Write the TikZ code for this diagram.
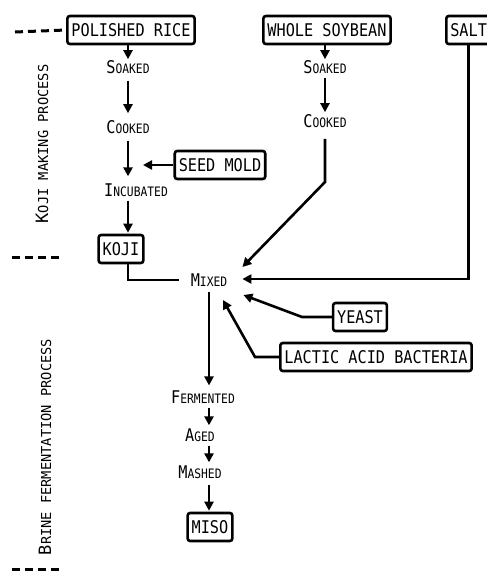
\documentclass[tikz,border=0pt]{standalone}
\usepackage{fontspec}
\newfontfamily\letterfont[FakeStretch=0.87]{DejaVu Sans Mono}
\newfontfamily\sidefont{DejaVu Sans Mono}
\usetikzlibrary{arrows.meta}
% big first letter, rest in small capitals
\newcommand\capsmall[2]{{\fontsize{17.5}{18}\selectfont #1}{\fontsize{13}{14}\selectfont #2}}
\newcommand\sidecaps[2]{{\fontsize{17}{18}\selectfont #1}{\fontsize{13.7}{14}\selectfont #2}}

\begin{document}
\begin{tikzpicture}[
  x=1pt, y=-1pt,
  box/.style={draw, line width=2.6pt, rounded corners=2.5pt, fill=white, inner xsep=4pt,
    minimum height=28pt, text height=12.5pt, text depth=0pt,
    font=\letterfont\fontsize{17.5}{18}\selectfont},
  stp/.style={inner sep=1pt, font=\letterfont},
  flow/.style={line width=2.6pt, -{Triangle[length=9pt,width=9pt]}},
  link/.style={line width=2.6pt},
  gap/.style={shorten <=6pt, shorten >=6pt},
  sep/.style={line width=3pt, dash pattern=on 8pt off 5pt},
  side/.style={rotate=90, inner sep=0pt, font=\sidefont}
]
  \useasboundingbox (0,0) rectangle (487,571);

  % koji making
  \node[box] (rice) at (131,30) {POLISHED RICE};
  \node[box] (soy) at (327,30) {WHOLE SOYBEAN};
  \node[box, anchor=west] (salt) at (445,30) {SALT};
  \node[stp] (soak1) at (128,67) {\capsmall{S}{OAKED}};
  \node[stp] (cook1) at (128,127) {\capsmall{C}{OOKED}};
  \node[box] (mold) at (220,165) {SEED MOLD};
  \node[stp] (incub) at (136,190) {\capsmall{I}{NCUBATED}};
  \node[box] (koji) at (121,249) {KOJI};
  \node[stp] (soak2) at (325,67) {\capsmall{S}{OAKED}};
  \node[stp] (cook2) at (325,121) {\capsmall{C}{OOKED}};

  % brine fermentation
  \node[stp, inner xsep=12pt, inner ysep=3pt] (mixed) at (209,280) {\capsmall{M}{IXED}};
  \node[box] (yeast) at (360,317) {YEAST};
  \node[box] (lab) at (376,357) {LACTIC ACID BACTERIA};
  \node[stp] (ferm) at (203,397) {\capsmall{F}{ERMENTED}};
  \node[stp] (aged) at (200,435) {\capsmall{A}{GED}};
  \node[stp] (mash) at (200,472) {\capsmall{M}{ASHED}};
  \node[box] (miso) at (210,527) {MISO};

  \node[side] (kojilbl) at (42,144) {\sidecaps{K}{OJI MAKING PROCESS}};
  \node[side] (brinelbl) at (45,447) {\sidecaps{B}{RINE FERMENTATION PROCESS}};

  \coordinate (moldtip) at (143,165);
  \coordinate (soybend) at (325,182);
  \coordinate (yeastbend) at (302,317);
  \coordinate (labbend) at (255,357);
  \coordinate (d1) at (15,32);
  \coordinate (d2) at (12,257);
  \coordinate (d3) at (63,257);
  \coordinate (d4) at (12,569);
  \coordinate (d5) at (63,569);

  \draw[sep] (d1) -- (rice.west);
  \draw[sep] (d2) -- (d3);
  \draw[sep] (d4) -- (d5);

  \draw[flow] (rice.south -| soak1) -- (soak1);
  \draw[flow, gap] (soak1) -- (cook1);
  \draw[flow, gap] (cook1.south) -- (incub.north -| cook1);
  \draw[flow] (mold) -- (moldtip);
  \draw[flow, shorten <=3pt, shorten >=1pt] (incub.south -| cook1) -- (koji.north -| cook1);
  \draw[link] (koji.south -| cook1) |- (mixed.west);

  \draw[flow] (soy.south -| soak2) -- (soak2);
  \draw[flow, shorten <=3pt, shorten >=1pt] (soak2) -- (cook2);
  \draw[flow, shorten <=10pt] (cook2.south) -- (soybend) -- ([xshift=3pt, yshift=13pt]mixed.east);
  \draw[flow] (salt.south) |- ([xshift=3pt, yshift=1pt]mixed.east);
  \draw[flow] (yeast.west) -- (yeastbend) -- ([xshift=4pt, yshift=-15pt]mixed.east);
  \draw[flow] (lab.west) -- (labbend) -- ([xshift=14pt, yshift=-20pt]mixed.center);

  \draw[flow, shorten <=2pt, shorten >=4pt] (mixed.south) -- (ferm.north -| mixed);
  \draw[flow, shorten <=3pt, shorten >=2pt] (ferm.south -| mixed) -- (aged.north -| mixed);
  \draw[flow, shorten <=3pt, shorten >=2pt] (aged.south -| mixed) -- (mash.north -| mixed);
  \draw[flow, shorten <=5pt, shorten >=1pt] (mash.south -| mixed) -- (miso.north -| mixed);
\end{tikzpicture}
\end{document}
